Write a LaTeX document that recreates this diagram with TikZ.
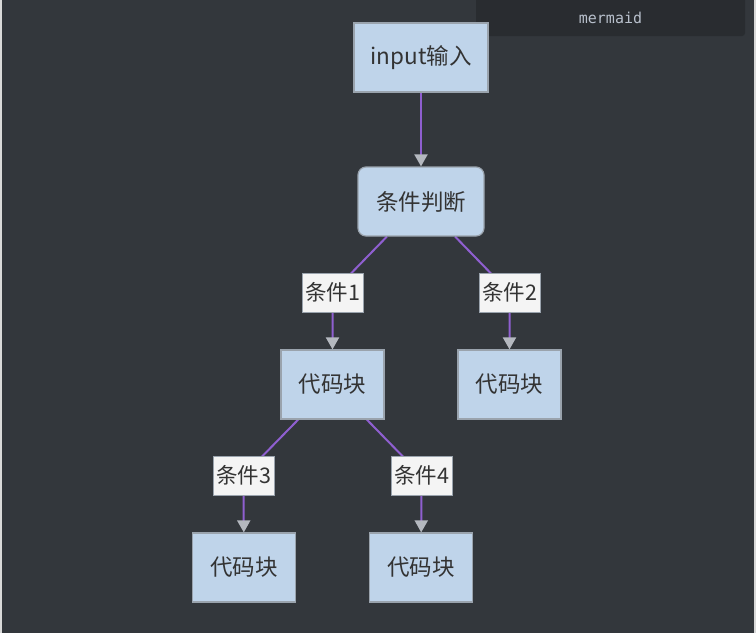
\documentclass[tikz,border=0pt]{standalone}
\usepackage{fontspec}
\setmainfont{Noto Sans CJK SC}
\newfontfamily\monofont{DejaVu Sans Mono}
\usepackage{xcolor}
\usetikzlibrary{arrows.meta, positioning, calc}
\definecolor{bgdark}{HTML}{33373C}
\definecolor{boxfill}{HTML}{BFD4EA}
\definecolor{boxline}{HTML}{9AA3AD}
\definecolor{edgepurple}{HTML}{8F5FD0}
\definecolor{tipgray}{HTML}{B4B8BF}
\definecolor{lblfill}{HTML}{F4F4F4}
\definecolor{txtdark}{HTML}{333333}
\definecolor{tagtext}{HTML}{B8C0CC}
\pgfdeclarelayer{canvas}
\pgfdeclarelayer{edges}
\pgfsetlayers{canvas,edges,main}

\begin{document}
\begin{tikzpicture}[
  x=1pt, y=-1pt,
  box/.style  = {rectangle, draw=boxline, fill=boxfill, line width=1.2pt,
                 text=txtdark, font=\fontsize{22.5}{26}\selectfont,
                 minimum height=69pt, minimum width=103pt, inner sep=0pt},
  lbl/.style  = {rectangle, draw=boxline, fill=lblfill, line width=0.6pt,
                 text=txtdark, font=\fontsize{21.5}{24}\selectfont,
                 minimum height=39pt, minimum width=61pt, inner sep=0pt},
  arr/.style  = {draw=edgepurple, line width=2pt,
                 -{Triangle[length=12pt, width=13pt, color=tipgray]}},
]
  \useasboundingbox (0,0) rectangle (756,633);
  % canvas
  \begin{pgfonlayer}{canvas}
    \fill[bgdark] (0,0) rectangle (756,633);
    \draw[white!85!black, line width=2pt] (1,0) -- (1,633);
    \draw[white!85!black, line width=2pt] (754.5,0) -- (754.5,633);
    \fill[black!20!bgdark, rounded corners=3pt] (476,-5) rectangle (745,36);
  \end{pgfonlayer}

  % mermaid tag
  \node[font=\monofont\fontsize{15}{17}\selectfont, text=tagtext] (tag) at (610.5,18) {mermaid};

  % nodes
  \node[box, minimum width=134pt] (input) at (421,57.5) {input输入};
  \node[box, minimum width=126pt, rounded corners=8pt] (judge) at (421,201.5) {条件判断};
  \node[box] (code1) at (332.5,384.5) {代码块};
  \node[box] (code2) at (509.5,384.5) {代码块};
  \node[box] (code3) at (244,567.5) {代码块};
  \node[box] (code4) at (421,567.5) {代码块};

  % edge labels
  \node[lbl] (cond1) at (332.5,292.5) {条件1};
  \node[lbl] (cond2) at (509.5,292.5) {条件2};
  \node[lbl] (cond3) at (243.5,475.5) {条件3};
  \node[lbl] (cond4) at (421.5,475.5) {条件4};

  % edges
  \begin{pgfonlayer}{edges}
    \draw[arr] (input) -- (judge);
    \draw[arr] (judge) -- (cond1.center) -- (code1);
    \draw[arr] (judge) -- (cond2.center) -- (code2);
    \draw[arr] (code1) -- (cond3.center) -- (code3);
    \draw[arr] (code1) -- (cond4.center) -- (code4);
  \end{pgfonlayer}
\end{tikzpicture}
\end{document}
